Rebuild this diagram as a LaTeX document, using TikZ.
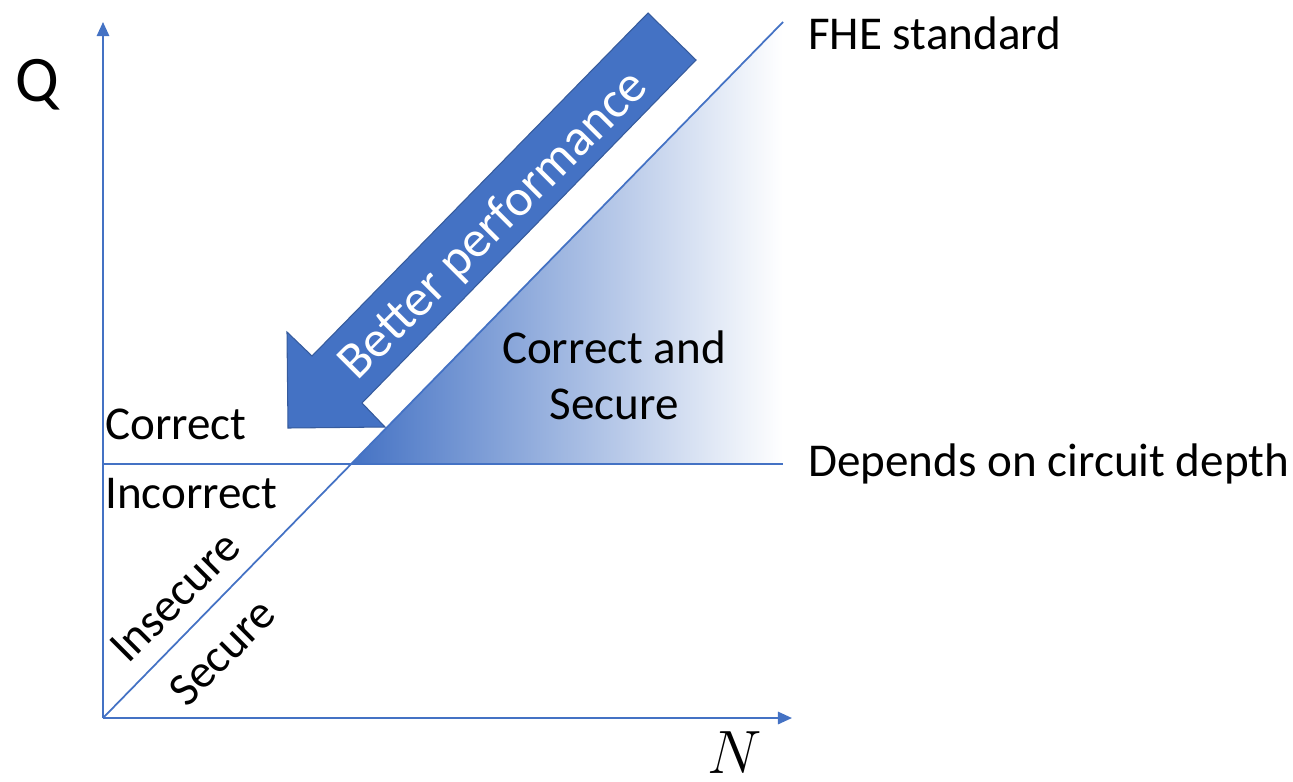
\documentclass[tikz,border=0pt]{standalone}
\usepackage{fontspec}
\setmainfont{Carlito}
\usetikzlibrary{arrows.meta}
\definecolor{officeblue}{HTML}{4472C4}
\tikzset{
  axis/.style={officeblue,line width=1.2pt,-{Triangle[width=7pt,length=8pt]}},
  guide/.style={officeblue,line width=1pt},
  lbl/.style={font=\fontsize{26.8}{32}\selectfont,inner sep=0pt},
}

\begin{document}
\begin{tikzpicture}[x=0.02cm,y=-0.02cm]
	\useasboundingbox (0,0) rectangle (1293,781);
	\coordinate (O) at (103,718);
	\coordinate (ytop) at (103,22);
	\coordinate (xend) at (792,718);
	\coordinate (diagend) at (783,22);
	\coordinate (hstart) at (103,464);
	\coordinate (hend) at (783,464);
	\coordinate (cross) at (351,464);
	% shaded region
	\shade[left color=officeblue,right color=white] (cross) -- (diagend) -- (hend) -- cycle;
	% axes and bounds
	\draw[axis] (O) -- (ytop);
	\draw[axis] (O) -- (xend);
	\draw[guide] (O) -- (diagend);
	\draw[guide] (hstart) -- (hend);
	% big arrow
	\fill[officeblue,draw=officeblue!80!black,line width=0.6pt]
		(648,13) -- (696,60) -- (362,403) -- (385,427) -- (288,428)
		-- (287,332) -- (312,356) -- cycle;
	\node[lbl,white,rotate=45,font=\fontsize{29.5}{34}\selectfont] (perf) at (494,226) {Better performance};
	% labels
	\node[font=\fontsize{37}{40}\selectfont,inner sep=0pt] (qlabel) at (37,85) {Q};
	\node[inner sep=0pt,scale=1.4] (nlabel) at (735,753) {\fontsize{24.88}{28}\selectfont$N$};
	\node[lbl,anchor=west] (fhe) at (808,33) {FHE standard};
	\node[lbl,anchor=west] (depth) at (808,464) {Depends on circuit depth};
	\node[lbl,anchor=base west] (correct) at (105,439) {Correct};
	\node[lbl,anchor=base west] (incorrect) at (105,508) {Incorrect};
	\node[lbl,rotate=45] (insecure) at (175,597) {Insecure};
	\node[lbl,rotate=45] (secure) at (222,652) {Secure};
	\node[lbl,align=center] (cands) at (614,375) {Correct and\\Secure};
\end{tikzpicture}
\end{document}
